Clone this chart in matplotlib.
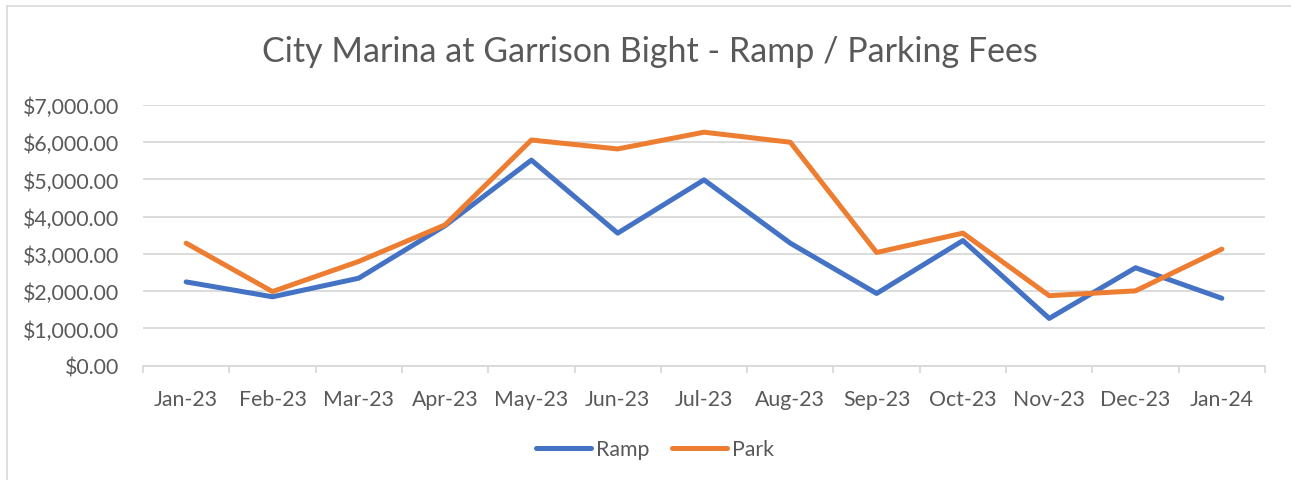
import matplotlib
matplotlib.use("Agg")
import matplotlib.pyplot as plt
from matplotlib.lines import Line2D
from matplotlib.ticker import FuncFormatter

months = ["Jan-23", "Feb-23", "Mar-23", "Apr-23", "May-23", "Jun-23", "Jul-23",
          "Aug-23", "Sep-23", "Oct-23", "Nov-23", "Dec-23", "Jan-24"]
ramp = [2250, 1850, 2350, 3760, 5520, 3560, 4990, 3290, 1940, 3360, 1270, 2630, 1810]
park = [3290, 1990, 2800, 3780, 6060, 5820, 6270, 6000, 3040, 3560, 1880, 2010, 3130]

plt.rcParams['font.family'] = ['Lato', 'DejaVu Sans']
textColor = "#595959"
gridColor = "#D9D9D9"

W, H = 1291, 481
fig = plt.figure(figsize=(W / 100, H / 100), dpi=100)
ax = fig.add_axes([143 / W, 1 - 366.7 / H, (1265 - 143) / W, (366.7 - 106) / H])

x = list(range(len(months)))
ax.plot(x, ramp, color="#4472C4", lw=3.6, solid_joinstyle="round", solid_capstyle="round", label="Ramp")
ax.plot(x, park, color="#ED7D31", lw=3.6, solid_joinstyle="round", solid_capstyle="round", label="Park")

ax.set_xlim(-0.5, len(months) - 0.5)
ax.set_ylim(0, 7000)
ax.set_yticks(range(0, 7001, 1000))
ax.yaxis.set_major_formatter(FuncFormatter(lambda v, p: "${:,.2f}".format(v)))
ax.set_xticks(x)
ax.set_xticklabels(months)
ax.set_xticks([i - 0.5 for i in range(len(months) + 1)], minor=True)

ax.grid(axis="y", color=gridColor, lw=1.3)
ax.set_axisbelow(True)
for s in ["top", "right", "left"]:
    ax.spines[s].set_visible(False)
ax.spines["bottom"].set_color(gridColor)
ax.spines["bottom"].set_linewidth(1.3)

ax.tick_params(axis="y", length=0, pad=17, labelsize=15.3, labelcolor=textColor)
ax.tick_params(axis="x", which="major", length=0, pad=17, labelsize=15.3, labelcolor=textColor)
ax.tick_params(axis="x", which="minor", length=5, width=1.3, color=gridColor, direction="out")

fig.text(650 / W, 1 - 52 / H, "City Marina at Garrison Bight - Ramp / Parking Fees",
         ha="center", va="center", fontsize=24.5, color=textColor)

fig.legend(*ax.get_legend_handles_labels(), loc="center", bbox_to_anchor=(655 / W, 1 - 450 / H),
           ncol=2, frameon=False, fontsize=15.3, labelcolor=textColor,
           handlelength=2.6, columnspacing=1.05, handletextpad=0.25)

# chart frame (only left and top edges visible in the crop)
fig.add_artist(Line2D([6.5 / W, 6.5 / W], [0, 1 - 7 / H], color=gridColor, lw=1.2))
fig.add_artist(Line2D([6.5 / W, 1], [1 - 7 / H, 1 - 7 / H], color=gridColor, lw=1.2))

fig.savefig("out.png", dpi=100, facecolor="white")
